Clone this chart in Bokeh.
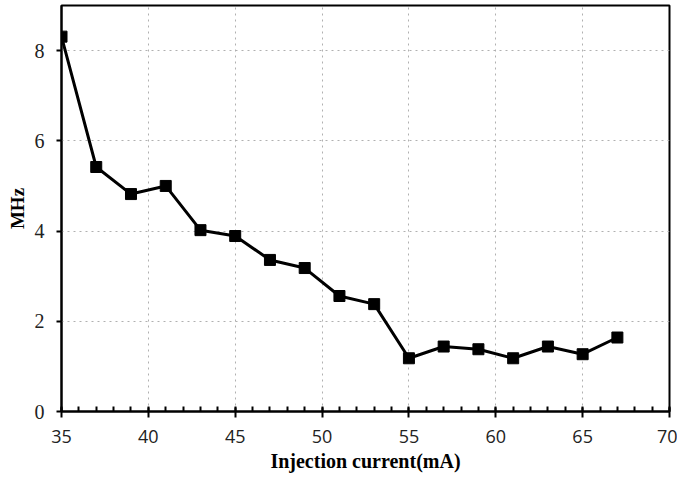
from bokeh.plotting import figure
from bokeh.models import Range1d, FixedTicker
from bokeh.embed import file_html
from bokeh.resources import INLINE

current_ma = [35, 37, 39, 41, 43, 45, 47, 49, 51, 53, 55, 57, 59, 61, 63, 65, 67]
linewidth_mhz = [8.31, 5.42, 4.82, 5.0, 4.02, 3.89, 3.36, 3.18, 2.56, 2.38, 1.18, 1.44, 1.38, 1.18, 1.44, 1.27, 1.64]
x_ticks = [35, 40, 45, 50, 55, 60, 65, 70]
y_ticks = [0, 2, 4, 6, 8]

p = figure(width=677, height=479, output_backend="svg", toolbar_location=None,
           x_range=Range1d(35, 70), y_range=Range1d(0, 9),
           min_border_left=61, min_border_right=8, min_border_top=5, min_border_bottom=68)

p.outline_line_color = "black"
p.outline_line_width = 2
p.outline_line_alpha = 1

p.xaxis.ticker = FixedTicker(ticks=x_ticks, minor_ticks=list(range(35, 71)))
p.yaxis.ticker = FixedTicker(ticks=y_ticks)

p.xgrid.ticker = FixedTicker(ticks=x_ticks)
p.ygrid.ticker = FixedTicker(ticks=y_ticks)
for g in (p.xgrid, p.ygrid):
    g.grid_line_color = "#b0b0b0"
    g.grid_line_dash = "dotted"
    g.grid_line_width = 1

for ax in (p.xaxis, p.yaxis):
    ax.axis_line_color = "black"
    ax.axis_line_width = 2
    ax.major_tick_line_color = "black"
    ax.major_tick_line_width = 2
    ax.minor_tick_line_color = "black"
    ax.minor_tick_line_width = 2
    ax.major_label_text_color = "#222222"
    ax.axis_label_text_font = "Liberation Serif"
    ax.axis_label_text_font_style = "bold"
    ax.axis_label_text_color = "black"

p.xaxis.major_tick_in = 4
p.xaxis.major_tick_out = 6
p.xaxis.minor_tick_in = 5
p.xaxis.minor_tick_out = 0
p.xaxis.major_label_text_font = "Open Sans"
p.xaxis.major_label_text_font_size = "18px"
p.xaxis.major_label_standoff = 12
p.xaxis.axis_label = "Injection current(mA)"
p.xaxis.axis_label_text_font_size = "20px"
p.xaxis.axis_label_standoff = 4

p.yaxis.major_tick_in = 0
p.yaxis.major_tick_out = 5
p.yaxis.minor_tick_in = 0
p.yaxis.minor_tick_out = 0
p.yaxis.major_label_text_font = "Liberation Serif"
p.yaxis.major_label_text_font_size = "20px"
p.yaxis.major_label_standoff = 12
p.yaxis.axis_label = "MHz"
p.yaxis.axis_label_text_font_size = "19px"
p.yaxis.axis_label_standoff = 4

p.line(current_ma, linewidth_mhz, line_color="black", line_width=3)
p.scatter(current_ma, linewidth_mhz, marker="square", size=11, fill_color="black", line_color="black")

open("out.html", "w").write(file_html(p, INLINE))
